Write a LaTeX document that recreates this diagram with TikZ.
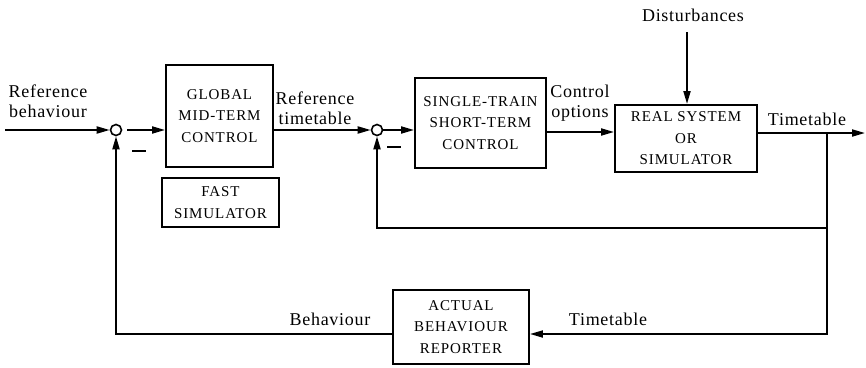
\documentclass[tikz,border=0pt]{standalone}
\usepackage{fontspec}
\setmainfont{Liberation Serif}
\newfontfamily\lblfont[LetterSpace=4]{Liberation Serif}
\newfontfamily\boxfont[LetterSpace=6]{Liberation Serif}
\usetikzlibrary{arrows.meta}
\begin{document}
\begin{tikzpicture}[x=1pt,y=-1pt,
  blk/.style={draw,line width=1.9pt,inner sep=0pt,font=\boxfont\fontsize{15}{21.5}\selectfont,align=center},
  lbl/.style={inner sep=0pt,font=\lblfont\fontsize{18}{20.5}\selectfont,align=center},
  sumc/.style={draw,circle,line width=1.6pt,minimum size=11pt,inner sep=0pt},
  conn/.style={line width=1.9pt},
  arr/.style={conn,-{Triangle[length=13pt,width=7pt]}},
  minus/.style={inner sep=0pt}
]
\useasboundingbox (0,0) rectangle (866,367);

% blocks
\node[blk,minimum width=107pt,minimum height=102pt] (global) at (219.5,116) {GLOBAL\\MID-TERM\\CONTROL};
\node[blk,minimum width=117pt,minimum height=49pt] (fast) at (220.5,202.5) {FAST\\SIMULATOR};
\node[blk,minimum width=131pt,minimum height=90pt] (single) at (480.5,123) {SINGLE-TRAIN\\SHORT-TERM\\CONTROL};
\node[blk,minimum width=142pt,minimum height=67pt] (real) at (686,138.5) {REAL SYSTEM\\OR\\SIMULATOR};
\node[blk,minimum width=136pt,minimum height=74pt] (actual) at (461,327) {ACTUAL\\BEHAVIOUR\\REPORTER};

% summing junctions
\node[sumc] (s1) at (116,130) {};
\node[sumc] (s2) at (377,130) {};
\node[minus] (m1) at (139,151) {\rule{14pt}{2pt}};
\node[minus] (m2) at (394,147) {\rule{14pt}{2pt}};

% labels
\node[lbl] (refb) at (48,101) {Reference\\behaviour};
\node[lbl] (reft) at (315,108) {Reference\\timetable};
\node[lbl] (ctrl) at (580,103) {Control\\options};
\node[lbl] (tt1) at (807,119) {Timetable};
\node[lbl] (beh) at (330,319) {Behaviour};
\node[lbl] (tt2) at (608,319) {Timetable};
\node[lbl] (dist) at (693,15) {Disturbances};

% coordinates
\coordinate (in) at (5,130);
\coordinate (mm) at (560,132);
\coordinate (out) at (865,133);
\coordinate (tap) at (827,133);
\coordinate (tapm) at (827,228);
\coordinate (tapb) at (827,334);
\coordinate (dtop) at (687,32);

% connectors
\draw[arr] (in) -- (s1.west);
\draw[arr,shorten <=5pt] (s1.east) -- (s1.east -| global.west);
\draw[arr] (global.east |- s2) -- (s2.west);
\draw[arr] (s2.east) -- (s2.east -| single.west);
\draw[arr] (single.east |- mm) -- (real.west |- mm);
\draw[arr] (real.east |- out) -- (out);
\draw[arr] (dtop) -- (dtop |- real.north);
\draw[arr] (tap) -- (tapb) -- (actual.east |- tapb);
\draw[arr] (tapm) -- (s2 |- tapm) -- (s2.south);
\draw[arr] (actual.west |- tapb) -- (s1 |- tapb) -- (s1.south);
\end{tikzpicture}
\end{document}
